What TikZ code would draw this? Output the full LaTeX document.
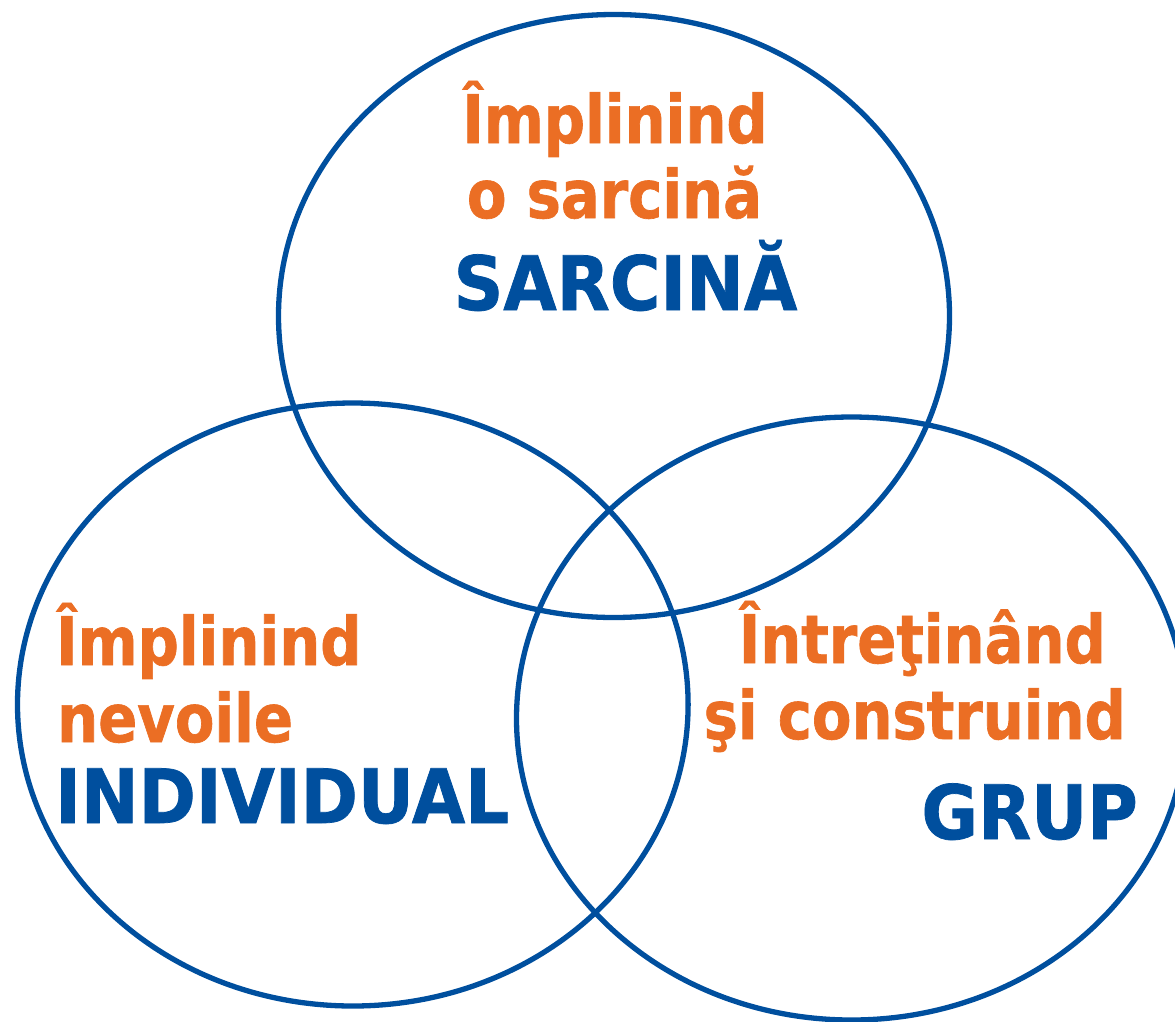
\documentclass[tikz,border=0pt]{standalone}
\usepackage{fontspec}
\newfontfamily\orfont[FakeStretch=0.86,FakeBold=1]{DejaVu Sans Bold}
\newfontfamily\blfont[FakeStretch=0.92,FakeBold=1]{DejaVu Sans Bold}
\definecolor{vorange}{RGB}{235,110,36}
\definecolor{vblue}{RGB}{0,79,158}
\begin{document}
\begin{tikzpicture}[x=1pt,y=-1pt,
  ring/.style={draw=vblue,line width=5.3pt},
  orline/.style={text=vorange,font=\orfont\fontsize{67}{67}\selectfont,inner sep=0pt},
  blline/.style={text=vblue,font=\blfont\fontsize{75}{75}\selectfont,inner sep=0pt}]
\useasboundingbox (0,0) rectangle (1175,1021);
\draw[ring] (614,316) ellipse [x radius=335.5, y radius=301.5];
\draw[ring] (352.8,704.5) ellipse [x radius=335.3, y radius=301.5];
\draw[ring] (851.5,718.5) ellipse [x radius=335, y radius=301.5];
% top
\node[orline,anchor=base] (t1) at (615,143) {Împlinind};
\node[orline,anchor=base] (t2) at (614.5,218) {o sarcină};
\node[blline,anchor=base] (t3) at (625.5,310) {SARCINĂ};
% left
\node[orline,anchor=base west] (l1) at (56,665) {Împlinind};
\node[orline,anchor=base west] (l2) at (57,742) {nevoile};
\node[blline,anchor=base west] (l3) at (55,823) {INDIVIDUAL};
% right
\node[orline,anchor=base east] (r1) at (1106,663) {Întreţinând};
\node[orline,anchor=base east] (r2) at (1126,739) {şi construind};
\node[blline,anchor=base east] (r3) at (1138,839) {GRUP};
\end{tikzpicture}
\end{document}
